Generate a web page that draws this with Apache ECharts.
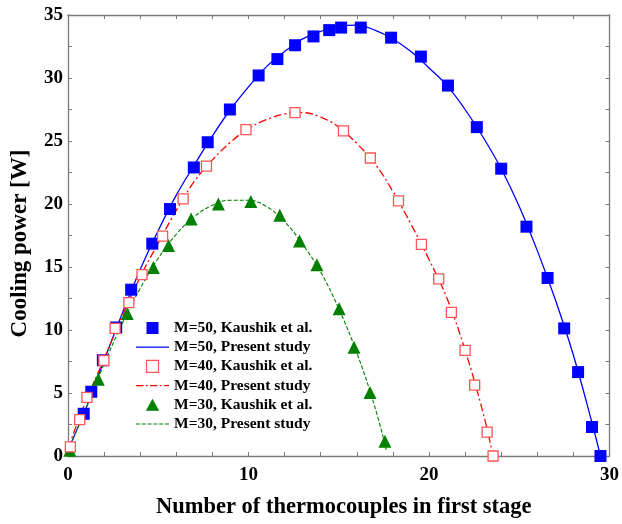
<!DOCTYPE html>
<html><head><meta charset="utf-8">
<script src="https://cdn.jsdelivr.net/npm/echarts@6/dist/echarts.min.js"></script>
<style>html,body{margin:0;padding:0;background:#fff}#c{width:622px;height:524px}</style>
</head><body><div id="c"></div>
<script>
// Kaushik et al. markers
const m50X = [0.87, 1.29, 1.93, 2.67, 3.5, 4.67, 5.65, 6.97, 7.74, 8.97, 10.56, 11.6, 12.58, 13.6, 14.47, 15.13, 16.22, 17.9, 19.55, 21.05, 22.65, 24.0, 25.4, 26.57, 27.49, 28.26, 29.03, 29.5];
const m50Y = [3.35, 5.1, 7.6, 10.2, 13.2, 16.85, 19.6, 22.9, 24.9, 27.5, 30.2, 31.5, 32.6, 33.3, 33.8, 34.0, 34.0, 33.2, 31.7, 29.4, 26.1, 22.8, 18.2, 14.13, 10.13, 6.66, 2.3, 0.0];
const m40X = [0.13, 0.65, 1.05, 1.99, 2.61, 3.37, 4.1, 5.24, 6.38, 7.67, 9.86, 12.58, 15.26, 16.75, 18.31, 19.58, 20.54, 21.24, 22.0, 22.53, 23.22, 23.55];
const m40Y = [0.73, 2.88, 4.65, 7.58, 10.13, 12.17, 14.4, 17.45, 20.4, 23.0, 25.9, 27.25, 25.8, 23.65, 20.25, 16.8, 14.05, 11.4, 8.39, 5.62, 1.9, 0.0];
const m30X = [0.1, 1.68, 3.28, 4.73, 5.57, 6.82, 8.33, 10.13, 11.73, 12.83, 13.79, 15.02, 15.85, 16.73, 17.56];
const m30Y = [0.45, 6.1, 11.3, 14.97, 16.7, 18.8, 20.0, 20.2, 19.1, 17.06, 15.18, 11.68, 8.64, 5.04, 1.18];
// Present study curves
const m50LineX = [0, 1, 2, 3, 4, 5, 6, 7, 8, 9, 10, 11, 12, 13, 14, 15, 16, 17, 18, 19, 20, 21, 22, 23, 24, 25, 26, 27, 28, 29, 29.5];
const m50LineY = [0.5, 3.8, 7.6, 11.3, 14.8, 17.9, 20.7, 23.1, 25.4, 27.5, 29.3, 30.9, 32.1, 33.1, 33.7, 34.1, 34.2, 33.8, 33.1, 32.1, 30.8, 29.4, 27.5, 25.3, 22.8, 19.8, 16.3, 12.4, 8.0, 2.8, 0.0];
const m40LineX = [0, 1, 2, 3, 4, 5, 6, 7, 8, 9, 10, 11, 12, 13, 14, 15, 16, 17, 18, 19, 20, 21, 22, 23, 23.55];
const m40LineY = [0.6, 4.4, 7.7, 11.1, 14.2, 16.9, 19.5, 21.8, 23.5, 24.9, 26.0, 26.7, 27.15, 27.25, 26.9, 26.1, 24.8, 23.2, 21.0, 18.4, 15.6, 12.5, 8.4, 3.4, 0.0];
const m30LineX = [0, 1, 2, 3, 4, 5, 6, 7, 8, 9, 10, 11, 12, 13, 14, 15, 16, 17, 17.65];
const m30LineY = [0.4, 3.8, 7.3, 10.5, 13.3, 15.7, 17.6, 19.0, 19.9, 20.3, 20.3, 19.8, 18.6, 16.8, 14.6, 11.7, 8.2, 3.9, 0.4];
const legendNames = ['M=50, Kaushik et al.', 'M=50, Present study', 'M=40, Kaushik et al.', 'M=40, Present study', 'M=30, Kaushik et al.', 'M=30, Present study'];
const xTitle = 'Number of thermocouples in first stage';
const yTitle = 'Cooling power [W]';

const pairs = (xs, ys) => xs.map((x, i) => [x, ys[i]]);
const FONT = '"Liberation Serif", "Times New Roman", serif';
const axisCol = '#7a7a7a';

// legend icon shapes
const ICON_SQ = 'path://M0,0h10v10h-10z';
const ICON_TRI = 'path://M5,0L10,9L0,9Z';
const ICON_SOLID = 'path://M0,0h40v1.4h-40z';
const ICON_DASHDOT = 'path://M0,0h9v1.4h-9z M12,0h2v1.4h-2z M17,0h9v1.4h-9z M29,0h2v1.4h-2z M34,0h6v1.4h-6z';
const ICON_DASH = 'path://M0,0h5v1.2h-5z M7,0h5v1.2h-5z M14,0h5v1.2h-5z M21,0h5v1.2h-5z M28,0h5v1.2h-5z M35,0h5v1.2h-5z';

function xAx(pos, show) {
  return {
    type: 'value', position: pos, min: 0, max: 30, interval: 2,
    name: show ? xTitle : '', nameLocation: 'middle', nameGap: 40,
    nameTextStyle: { fontFamily: FONT, fontWeight: 'bold', fontSize: 22.5, color: '#000', padding: [0, 0, 0, 10] },
    axisLine: { show: true, onZero: false, lineStyle: { color: axisCol, width: 1.3 } },
    axisTick: { show: true, inside: true, length: 4, lineStyle: { color: axisCol } },
    axisLabel: { show: show, margin: 10, fontFamily: FONT, fontWeight: 'bold', fontSize: 19, color: '#000',
      formatter: v => (v % 10 === 0 ? String(v) : '') },
    splitLine: { show: false }
  };
}
function yAx(pos, show) {
  return {
    type: 'value', position: pos, min: 0, max: 35, interval: 2.5,
    name: show ? yTitle : '', nameLocation: 'middle', nameGap: 36,
    nameTextStyle: { fontFamily: FONT, fontWeight: 'bold', fontSize: 23, color: '#000', padding: [0, 16, 0, 0] },
    axisLine: { show: true, onZero: false, lineStyle: { color: axisCol, width: 1.3 } },
    axisTick: { show: true, inside: true, length: 4, lineStyle: { color: axisCol } },
    axisLabel: { show: show, margin: 5, fontFamily: FONT, fontWeight: 'bold', fontSize: 19, color: '#000',
      formatter: v => (v % 5 === 0 ? String(v) : '') },
    splitLine: { show: false }
  };
}

const chart = echarts.init(document.getElementById('c'), null, { renderer: 'canvas' });
chart.setOption({
  animation: false,
  backgroundColor: '#fff',
  grid: { left: 68, right: 9, top: 15, bottom: 63 },
  xAxis: [xAx('bottom', true), xAx('top', false)],
  yAxis: [yAx('left', true), yAx('right', false)],
  legend: {
    orient: 'vertical', left: 136, top: 320, padding: 0, itemWidth: 33, itemHeight: 12, itemGap: 3.2,
    symbolKeepAspect: true,
    textStyle: { fontFamily: FONT, fontWeight: 'bold', fontSize: 15.5, color: '#000' },
    data: [
      { name: legendNames[0], icon: ICON_SQ, itemStyle: { color: '#0000ff', borderWidth: 0 } },
      { name: legendNames[1], icon: ICON_SOLID, itemStyle: { color: '#0000ff', borderWidth: 0 } },
      { name: legendNames[2], icon: ICON_SQ, itemStyle: { color: '#ffffff', borderColor: '#ff5555', borderWidth: 1.2 } },
      { name: legendNames[3], icon: ICON_DASHDOT, itemStyle: { color: '#ff0000', borderWidth: 0 } },
      { name: legendNames[4], icon: ICON_TRI, itemStyle: { color: '#008000', borderWidth: 0 } },
      { name: legendNames[5], icon: ICON_DASH, itemStyle: { color: '#008000', borderWidth: 0 } }
    ]
  },
  series: [
    { name: legendNames[1], type: 'line', smooth: 0.4, symbol: 'none', data: pairs(m50LineX, m50LineY),
      lineStyle: { color: '#0000ff', width: 1.3 }, itemStyle: { color: '#0000ff', borderWidth: 0 }, z: 2 },
    { name: legendNames[3], type: 'line', smooth: 0.4, symbol: 'none', data: pairs(m40LineX, m40LineY),
      lineStyle: { color: '#ff0000', width: 1.3, type: [8, 3, 2, 3] }, itemStyle: { color: '#ff0000', borderWidth: 0 }, z: 2 },
    { name: legendNames[5], type: 'line', smooth: 0.4, symbol: 'none', data: pairs(m30LineX, m30LineY),
      lineStyle: { color: '#008000', width: 1.1, type: [4, 2] }, itemStyle: { color: '#008000', borderWidth: 0 }, z: 2 },
    { name: legendNames[0], type: 'scatter', symbol: 'rect', symbolSize: 12, data: pairs(m50X, m50Y),
      itemStyle: { color: '#0000ff', opacity: 1 }, z: 3 },
    { name: legendNames[2], type: 'scatter', symbol: 'rect', symbolSize: 10, data: pairs(m40X, m40Y),
      itemStyle: { color: '#ffffff', borderColor: '#ff5555', borderWidth: 1.3, opacity: 1 }, z: 4 },
    { name: legendNames[4], type: 'scatter', symbol: 'triangle', symbolSize: 13, data: pairs(m30X, m30Y),
      itemStyle: { color: '#008000', opacity: 1 }, z: 3 }
  ]
});
</script></body></html>
